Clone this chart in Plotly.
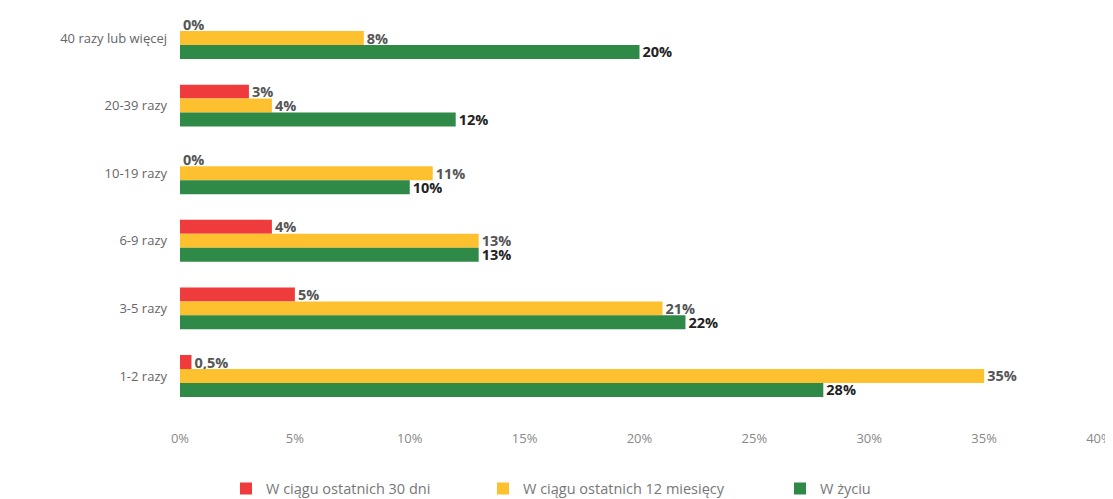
import plotly.graph_objects as go

categories = ["40 razy lub więcej", "20-39 razy", "10-19 razy", "6-9 razy", "3-5 razy", "1-2 razy"]
series_names = ["W ciągu ostatnich 30 dni", "W ciągu ostatnich 12 miesięcy", "W życiu"]
last_30_days = [0, 3, 0, 4, 5, 0.5]
last_12_months = [8, 4, 11, 13, 21, 35]
lifetime = [20, 12, 10, 13, 22, 28]
tick_values = [0, 5, 10, 15, 20, 25, 30, 35, 40]
tick_labels = ["0%", "5%", "10%", "15%", "20%", "25%", "30%", "35%", "40%"]

colors = ["#ef3b3b", "#fdc02f", "#2e8a46"]
label_colors = ["#555555", "#555555", "#222222"]
legend_ids = ["legend", "legend2", "legend3"]
legend_x = [218, 475, 772]

def fmt(v):
    return (f"{v:g}%").replace(".", ",")

fig = go.Figure()
for name, vals, col, lcol, lid in zip(series_names, [last_30_days, last_12_months, lifetime],
                                      colors, label_colors, legend_ids):
    fig.add_trace(go.Bar(
        y=categories, x=vals, orientation="h", name=name, legend=lid,
        marker=dict(color=col, line=dict(width=0)),
        text=[fmt(v) for v in vals], textposition="outside",
        textfont=dict(family="Open Sans", size=14.5, color=lcol, weight="bold"),
        constraintext="none", cliponaxis=False,
    ))

legend_common = dict(orientation="h", yref="container", y=0.005, yanchor="bottom",
                     xref="container", xanchor="left",
                     font=dict(size=14.5, color="#777777"), itemwidth=30,
                     bgcolor="rgba(0,0,0,0)")
layout_legends = {}
for lid, lx in zip(legend_ids, legend_x):
    layout_legends[lid] = dict(legend_common, x=lx / 1113)

fig.update_layout(
    width=1113, height=499,
    barmode="group", bargap=0.38, bargroupgap=0,
    plot_bgcolor="white", paper_bgcolor="white",
    margin=dict(l=172, r=22, t=0, b=90),
    font=dict(family="Open Sans", size=13, color="#777777"),
    showlegend=True,
    xaxis=dict(range=[0, 40], tickvals=tick_values, ticktext=tick_labels,
               showgrid=False, zeroline=False, showline=False, ticks="",
               tickfont=dict(size=13, color="#888888"), ticklabelstandoff=12,
               automargin=False),
    yaxis=dict(range=[5.607, -0.444], showgrid=False, zeroline=False, showline=False,
               ticks="", tickfont=dict(size=13, color="#666666"), ticklabelstandoff=12,
               automargin=False),
    **layout_legends,
)

fig.write_html("out.html")
